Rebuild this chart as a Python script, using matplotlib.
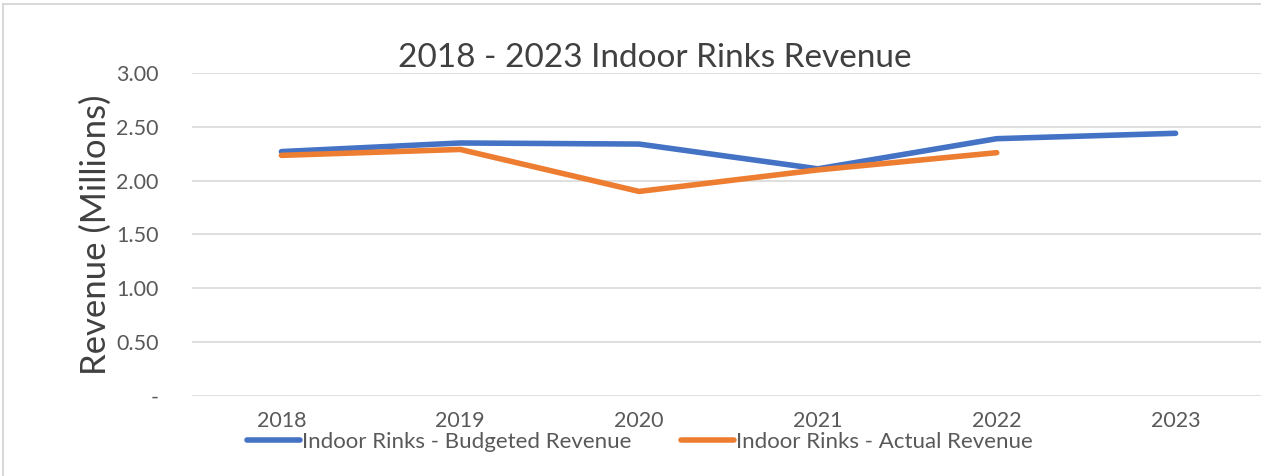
import numpy as np
import matplotlib.pyplot as plt
from matplotlib.patches import Rectangle

plt.rcParams['font.family'] = ['Lato', 'DejaVu Sans']

years = ['2018', '2019', '2020', '2021', '2022', '2023']
budgeted = [2.27, 2.35, 2.34, 2.11, 2.39, 2.44]
actual = [2.235, 2.29, 1.90, 2.10, 2.26, np.nan]

yticks = [0, 0.5, 1.0, 1.5, 2.0, 2.5, 3.0]
ylabels = ['-', '0.50', '1.00', '1.50', '2.00', '2.50', '3.00']

fig = plt.figure(figsize=(12.61, 4.76), dpi=100)
ax = fig.add_axes([192 / 1261, 80 / 476, 1073 / 1261, 323 / 476])

x = np.arange(len(years))
ax.plot(x, budgeted, color='#4472C4', lw=4, solid_capstyle='round',
        label='Indoor Rinks - Budgeted Revenue')
ax.plot(x, actual, color='#ED7D31', lw=4, solid_capstyle='round',
        label='Indoor Rinks - Actual Revenue')

ax.set_xlim(-0.5, len(years) - 0.5)
ax.set_ylim(0, 3.0)
ax.set_yticks(yticks)
ax.set_yticklabels(ylabels)
ax.set_xticks(x)
ax.set_xticklabels(years)
ax.grid(axis='y', color='#D9D9D9', lw=1.2)
ax.set_axisbelow(True)
for s in ax.spines.values():
    s.set_visible(False)
ax.tick_params(length=0, labelsize=15.5, colors='#595959')
ax.tick_params(axis='y', pad=24)
ax.tick_params(axis='x', pad=11)

ax.set_ylabel('Revenue (Millions)', fontsize=25, color='#404040', labelpad=3)
fig.text(655 / 1261, 1 - 58 / 476, '2018 - 2023 Indoor Rinks Revenue',
         fontsize=24, color='#404040', ha='center', va='center')

fig.legend(loc='center', bbox_to_anchor=(640 / 1261, 1 - 442 / 476), ncol=2,
           frameon=False, fontsize=16, labelcolor='#595959',
           handlelength=2.4, handletextpad=0.1, columnspacing=2.2)

fig.patches.append(Rectangle((3 / 1261, -0.05), 1.1, 1 - 4 / 476 + 0.05,
                             transform=fig.transFigure, fill=False,
                             edgecolor='#D9D9D9', lw=1.5))

fig.savefig('out.png', dpi=100)
